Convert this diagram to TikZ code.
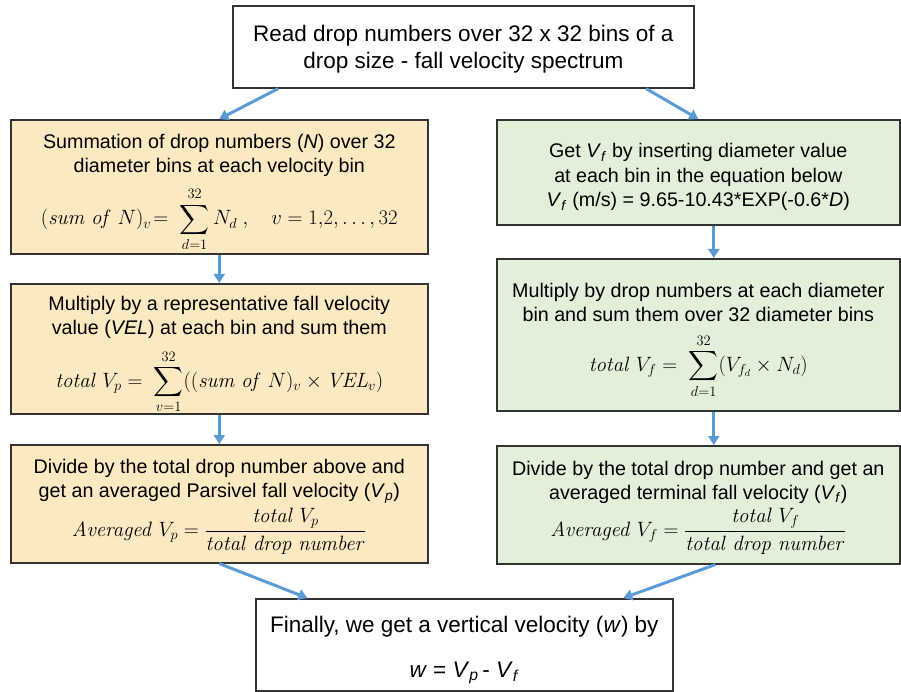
\documentclass[tikz,border=0pt]{standalone}
\usepackage[no-math]{fontspec}
\setmainfont{Liberation Sans}
\usepackage{amsmath}
\usetikzlibrary{arrows.meta,calc}
\definecolor{boxO}{HTML}{FBEAC1}
\definecolor{boxG}{HTML}{E2EFD9}
\definecolor{arr}{HTML}{5B9BD5}
\definecolor{edge}{HTML}{333333}
\begin{document}
\begin{tikzpicture}[x=1pt,y=-1pt,
  box/.style={draw=edge, line width=1.6pt, inner sep=0pt, anchor=north west},
  obox/.style={box, fill=boxO},
  gbox/.style={box, fill=boxG},
  wbox/.style={box, fill=white},
  txt/.style={inner sep=0pt, align=center, font=\fontsize{19.7}{24.5}\selectfont},
  bigtxt/.style={inner sep=0pt, align=center, font=\fontsize{22.5}{27}\selectfont},
  flow/.style={draw=arr, line width=3pt, -{Triangle[width=11pt,length=9pt]}}]
\useasboundingbox (0,0) rectangle (901,692);

% boxes
\node[wbox, minimum width=461pt, minimum height=82pt] (top) at (232,5) {};
\node[obox, minimum width=417pt, minimum height=134pt] (L1) at (10,119) {};
\node[obox, minimum width=417pt, minimum height=130pt] (L2) at (10,283) {};
\node[obox, minimum width=417pt, minimum height=118pt] (L3) at (10,444) {};
\node[gbox, minimum width=403pt, minimum height=105pt] (R1) at (496,119) {};
\node[gbox, minimum width=403pt, minimum height=152pt] (R2) at (496,258) {};
\node[gbox, minimum width=403pt, minimum height=118pt] (R3) at (496,445) {};
\node[wbox, minimum width=417pt, minimum height=92pt] (bot) at (255,598) {};

% texts
\node[bigtxt] (topT) at ([yshift=-2pt]top.center)
  {Read drop numbers over 32 x 32 bins of a\\ drop size - fall velocity spectrum};

\node[txt] (L1T) at ([yshift=-6pt]L1.center)
  {Summation of drop numbers (\textit{N}) over 32\\ diameter bins at each velocity bin\\[10pt]
   $\displaystyle (\mathit{sum\ of}\ N)_v\!=\ \sum_{d=1}^{32} N_d\ ,\quad v=1{,}2,\ldots,32$};

\node[txt] (L2T) at ([yshift=-6pt]L2.center)
  {Multiply by a representative fall velocity\\ value (\textit{VEL}) at each bin and sum them\\[10pt]
   $\displaystyle \mathit{total}\ V_p=\ \sum_{v=1}^{32}((\mathit{sum\ of}\ N)_v\times \mathit{VEL}_v)$};

\node[txt] (L3T) at ([yshift=-3pt]L3.center)
  {Divide by the total drop number above and\\ get an averaged Parsivel fall velocity (\textit{V}\textsubscript{\textit{p}})\\[3pt]
   $\displaystyle \mathit{Averaged}\ V_p=\frac{\mathit{total}\ V_p}{\mathit{total\ drop\ number}}$};

\node[txt] (R1T) at ([yshift=-5pt]R1.center)
  {Get \textit{V}\textsubscript{\textit{f}} by inserting diameter value\\ at each bin in the equation below\\
   \textit{V}\textsubscript{\textit{f}} (m/s) = 9.65-10.43*EXP(-0.6*\textit{D})};

\node[txt] (R2T) at ([yshift=-6pt]R2.center)
  {Multiply by drop numbers at each diameter\\ bin and sum them over 32 diameter bins\\[11pt]
   $\displaystyle \mathit{total}\ V_f=\ \sum_{d=1}^{32}(V_{f_d}\times N_d)$};

\node[txt] (R3T) at ([yshift=-3pt]R3.center)
  {Divide by the total drop number and get an\\ averaged terminal fall velocity (\textit{V}\textsubscript{\textit{f}})\\[3pt]
   $\displaystyle \mathit{Averaged}\ V_f=\frac{\mathit{total}\ V_f}{\mathit{total\ drop\ number}}$};

\node[bigtxt] (botT) at ([yshift=-5pt]bot.center)
  {Finally, we get a vertical velocity (\textit{w}) by\\[18pt]
   \textit{w} = \textit{V}\textsubscript{\textit{p}}\,- \textit{V}\textsubscript{\textit{f}}};

% connectors
\draw[flow] ($(top.south west)!0.1!(top.south east)$) -- (L1.north);
\draw[flow] ($(top.south west)!0.895!(top.south east)$) -- (R1.north);
\draw[flow] (L1.south) -- (L2.north);
\draw[flow] (L2.south) -- (L3.north);
\draw[flow] ([xshift=15.5pt]R1.south) -- ([xshift=15.5pt]R2.north);
\draw[flow] ([xshift=15.5pt]R2.south) -- ([xshift=15.5pt]R3.north);
\draw[flow] (L3.south) -- ($(bot.north west)!0.125!(bot.north east)$);
\draw[flow] ([xshift=17pt]R3.south) -- ($(bot.north west)!0.88!(bot.north east)$);
\end{tikzpicture}
\end{document}
